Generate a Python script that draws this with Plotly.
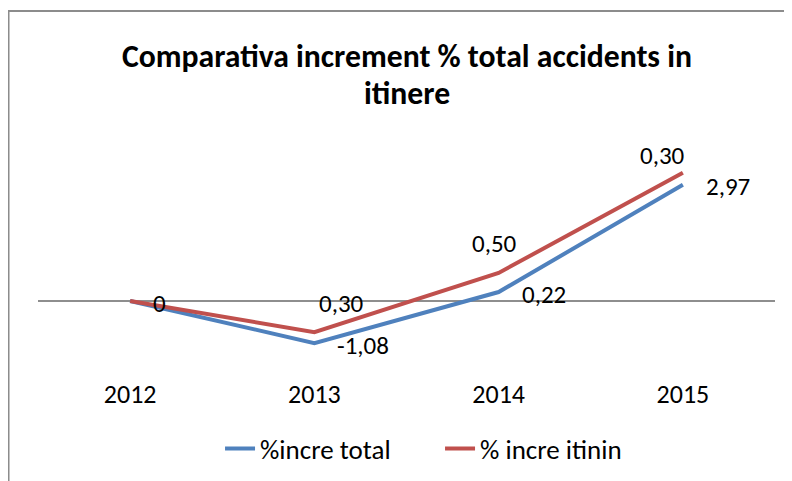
import plotly.graph_objects as go

years = ["2012", "2013", "2014", "2015"]
total_vals = [0.0, -1.08, 0.23, 2.98]
itin_vals = [0.0, -0.80, 0.72, 3.29]
total_labels = ["0", "-1,08", "0,22", "2,97"]
itin_labels = ["", "0,30", "0,50", "0,30"]
series_names = ["%incre total", "% incre itinin"]

BLUE = "#4F81BD"
RED = "#C0504D"
FONT = "Carlito, Calibri, Lato, sans-serif"

fig = go.Figure()
fig.add_trace(go.Scatter(x=years, y=total_vals, mode="lines", name=series_names[0],
                         line=dict(color=BLUE, width=4)))
fig.add_trace(go.Scatter(x=years, y=itin_vals, mode="lines", name=series_names[1],
                         line=dict(color=RED, width=4)))

# data labels (x given as category index)
for i, (yv, t) in enumerate(zip(total_vals, total_labels)):
    fig.add_annotation(x=i, y=yv, xref="x", yref="y", text=t, showarrow=False,
                       xanchor="left", yanchor="middle", xshift=21, yshift=-2,
                       font=dict(family=FONT, size=25, color="black"))
itin_shifts = [(0, 0), (27, 29), (-4, 29), (-20, 17)]
for i, (yv, t) in enumerate(zip(itin_vals, itin_labels)):
    if t:
        dx, dy = itin_shifts[i]
        fig.add_annotation(x=i, y=yv, xref="x", yref="y", text=t, showarrow=False,
                           xanchor="center", yanchor="middle", xshift=dx, yshift=dy,
                           font=dict(family=FONT, size=25, color="black"))

# title
fig.add_annotation(xref="paper", yref="paper", x=0.5, y=1.0, yshift=89,
                   text="<b>Comparativa increment % total accidents in</b>",
                   showarrow=False, yanchor="middle",
                   font=dict(family=FONT, size=31.7, color="black"))
fig.add_annotation(xref="paper", yref="paper", x=0.5, y=1.0, yshift=52,
                   text="<b>itinere</b>", showarrow=False, yanchor="middle",
                   font=dict(family=FONT, size=31.7, color="black"))

# chart border
fig.add_shape(type="rect", xref="paper", yref="paper",
              x0=-0.04, x1=1.2, y0=-0.6, y1=1.58,
              line=dict(color="#8C8C8C", width=2), fillcolor="rgba(0,0,0,0)")

fig.update_layout(
    width=784, height=473,
    margin=dict(l=30, r=17, t=137, b=105, autoexpand=False),
    paper_bgcolor="white", plot_bgcolor="white",
    showlegend=True,
    legend=dict(orientation="h", x=0.247, xanchor="left", y=-0.316, yanchor="middle",
                font=dict(family=FONT, size=27, color="black"),
                itemwidth=30, entrywidth=175, bgcolor="rgba(0,0,0,0)"),
    xaxis=dict(type="category", range=[-0.5, 3.5], showgrid=False, showline=False,
               ticks="", zeroline=False,
               tickfont=dict(family=FONT, size=26, color="black")),
    yaxis=dict(range=[-1.923, 4], showgrid=False, showticklabels=False, zeroline=True,
               zerolinecolor="#8E8E8E", zerolinewidth=1.5, showline=False),
)

fig.write_html("out.html")
